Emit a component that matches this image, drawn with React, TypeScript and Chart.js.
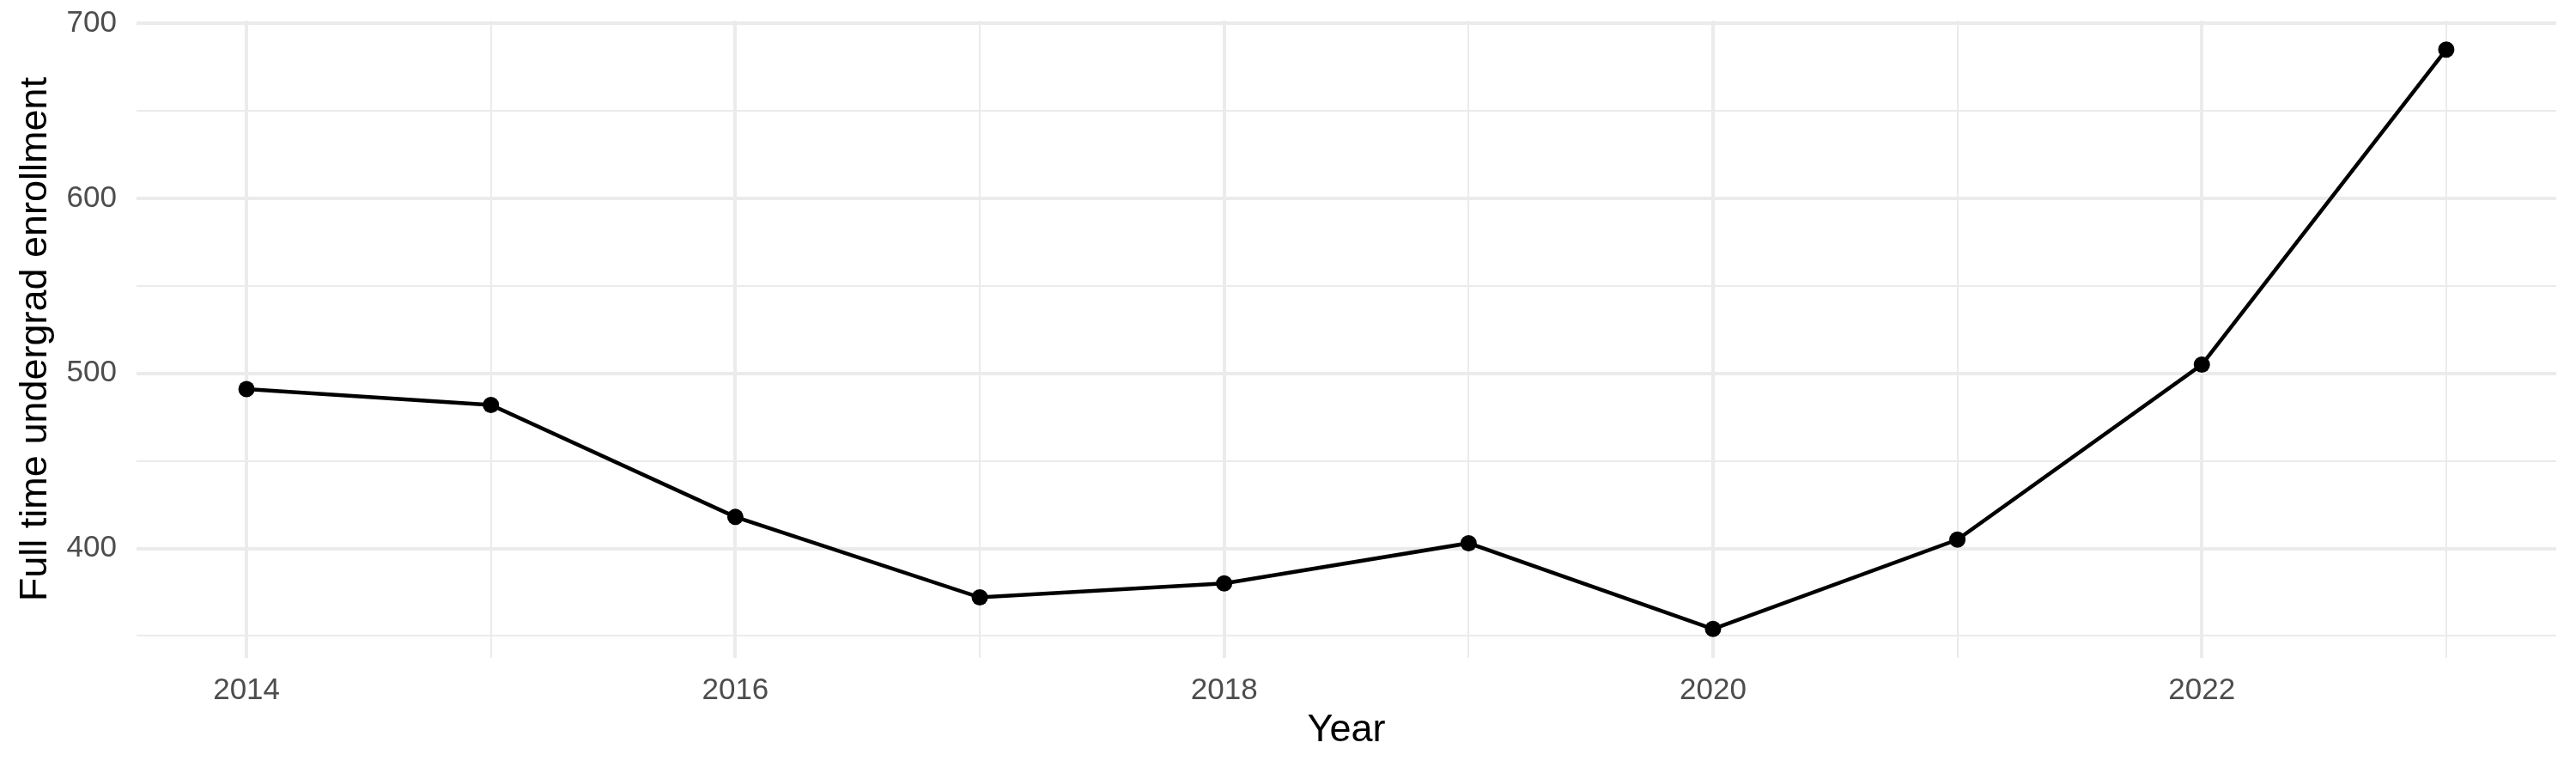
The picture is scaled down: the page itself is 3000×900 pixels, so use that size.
import React, { useEffect, useRef } from 'react'
import { Chart, registerables } from 'chart.js'
Chart.register(...registerables)

const years = [2014, 2015, 2016, 2017, 2018, 2019, 2020, 2021, 2022, 2023]
const enrollment = [491, 482, 418, 372, 380, 403, 354, 405, 505, 685]
const yTicks = [350, 400, 450, 500, 550, 600, 650, 700]
const xLabelYears = [2014, 2016, 2018, 2020, 2022]
const yLabelValues = [400, 500, 600, 700]

const FONT = '"Liberation Sans", Arial, Helvetica, sans-serif'
const GRID = '#EBEBEB'

const EnrollmentChart: React.FC = () => {
  const ref = useRef<HTMLCanvasElement | null>(null)
  useEffect(() => {
    document.body.style.margin = '0'
    document.body.style.overflow = 'hidden'
    if (!ref.current) return
    const ctx = ref.current.getContext('2d')!
    // ggplot-style 5% expansion around the data range
    const xSpan = years[years.length - 1] - years[0]
    const yMinData = Math.min(...enrollment)
    const yMaxData = Math.max(...enrollment)
    const ySpan = yMaxData - yMinData
    const chart = new Chart(ctx, {
      type: 'line',
      data: {
        datasets: [{
          label: 'Full time undergrad enrollment',
          data: years.map((y, i) => ({ x: y, y: enrollment[i] })),
          borderColor: '#000000',
          backgroundColor: '#000000',
          borderWidth: 4.5,
          pointRadius: 9.5,
          pointBorderWidth: 0,
          pointBackgroundColor: '#000000',
          tension: 0,
        }]
      },
      options: {
        animation: false,
        responsive: true,
        maintainAspectRatio: false,
        layout: { padding: { left: 0, top: 24, right: 23, bottom: 0 } },
        plugins: { legend: { display: false }, tooltip: { enabled: false } },
        scales: {
          x: {
            type: 'linear',
            min: years[0] - xSpan * 0.05,
            max: years[years.length - 1] + xSpan * 0.05,
            afterBuildTicks: (scale: any) => { scale.ticks = years.map(v => ({ value: v })) },
            afterFit: (scale: any) => {
              scale.height = 134
              scale.paddingLeft = 0
              scale.paddingRight = 0
            },
            border: { display: false },
            grid: {
              drawTicks: false,
              color: GRID,
              lineWidth: (c: any) => (xLabelYears.includes(c.tick?.value) ? 4 : 2),
            },
            ticks: {
              padding: 17,
              color: '#4D4D4D',
              font: { family: FONT, size: 35 },
              maxRotation: 0,
              autoSkip: false,
              callback: (v: any) => (xLabelYears.includes(Number(v)) ? String(v) : ''),
            },
            title: {
              display: true,
              text: 'Year',
              color: '#000000',
              font: { family: FONT, size: 45 },
              padding: { top: 0, bottom: 22 },
            },
          },
          y: {
            type: 'linear',
            min: yMinData - ySpan * 0.05,
            max: yMaxData + ySpan * 0.05,
            afterBuildTicks: (scale: any) => { scale.ticks = yTicks.map(v => ({ value: v })) },
            afterFit: (scale: any) => {
              scale.width = 159
              scale.paddingTop = 0
              scale.paddingBottom = 0
            },
            border: { display: false },
            grid: {
              drawTicks: false,
              color: GRID,
              lineWidth: (c: any) => (yLabelValues.includes(c.tick?.value) ? 4 : 2),
            },
            ticks: {
              padding: 23,
              color: '#4D4D4D',
              font: { family: FONT, size: 35 },
              autoSkip: false,
              callback: (v: any) => (yLabelValues.includes(Number(v)) ? String(v) : ''),
            },
            title: {
              display: true,
              text: 'Full time undergrad enrollment',
              color: '#000000',
              font: { family: FONT, size: 45 },
              padding: { top: 15, bottom: 0 },
            },
          },
        },
      },
    })
    return () => chart.destroy()
  }, [])
  return <div style={{ width: 3000, height: 900, position: 'relative' }}><canvas ref={ref} /></div>
}

export default function App() {
  return <EnrollmentChart />
}
